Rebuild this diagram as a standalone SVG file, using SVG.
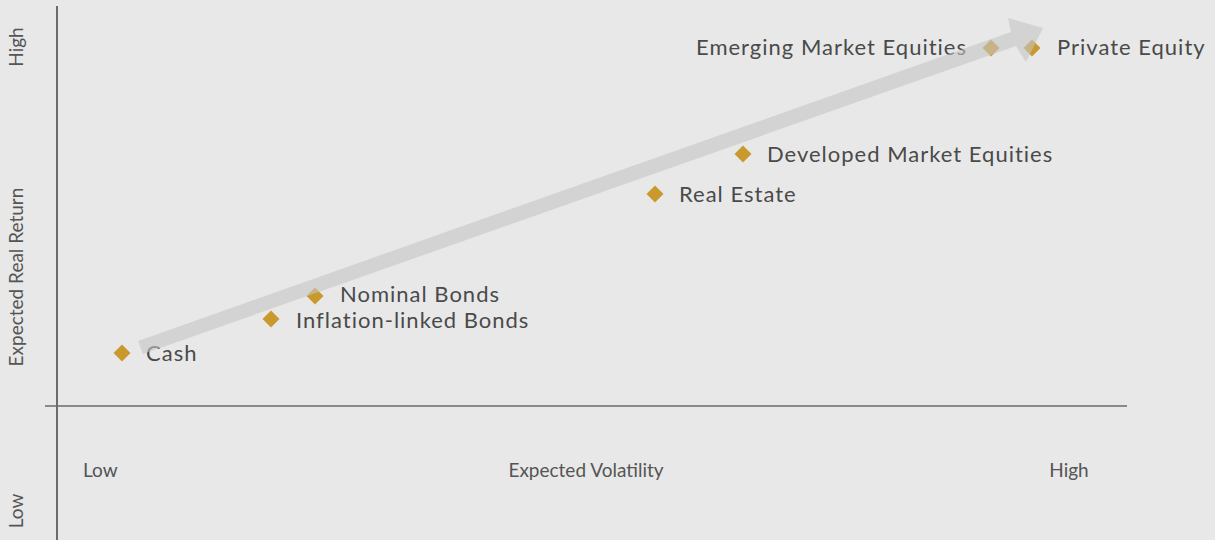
<svg xmlns="http://www.w3.org/2000/svg" width="1215" height="540" viewBox="0 0 1215 540">
<style>
.lbl{font-family:Lato,"Noto Sans","Liberation Sans",sans-serif;font-size:22px;letter-spacing:1px;fill:#4a4a4a}
.ax{font-family:Lato,"Noto Sans","Liberation Sans",sans-serif;font-size:19px;fill:#555}
.d{fill:#c9992d}
.axis{stroke:#6b6b6b;fill:none}
</style>
<defs>
<path id="dia" d="M0,-8.5 L8.5,0 L0,8.5 L-8.5,0 Z"/>
</defs>
<rect width="1215" height="540" fill="#e8e8e8"/>
<g id="axes">
<line class="axis" x1="57" y1="6" x2="57" y2="540" stroke-width="2"/>
<line class="axis" x1="45" y1="406" x2="1127" y2="406" stroke-width="1.5"/>
<text class="ax" x="83" y="477">Low</text>
<text class="ax" x="586" y="477" text-anchor="middle">Expected Volatility</text>
<text class="ax" x="1069" y="477" text-anchor="middle">High</text>
<text class="ax" transform="translate(23,47) rotate(-90)" text-anchor="middle">High</text>
<text class="ax" transform="translate(23,277) rotate(-90)" text-anchor="middle">Expected Real Return</text>
<text class="ax" transform="translate(23,511) rotate(-90)" text-anchor="middle">Low</text>
</g>
<g id="n-cash"><use href="#dia" class="d" x="122" y="353"/><text class="lbl" x="146" y="361">Cash</text></g>
<g id="n-ilb"><use href="#dia" class="d" x="271" y="319"/><text class="lbl" x="296" y="328">Inflation-linked Bonds</text></g>
<g id="n-nb"><use href="#dia" class="d" x="315" y="296"/><text class="lbl" x="340" y="302">Nominal Bonds</text></g>
<g id="n-re"><use href="#dia" class="d" x="655" y="194"/><text class="lbl" x="679" y="202">Real Estate</text></g>
<g id="n-dme"><use href="#dia" class="d" x="743" y="154"/><text class="lbl" x="767" y="162">Developed Market Equities</text></g>
<g id="n-eme"><use href="#dia" class="d" x="991" y="48"/><text class="lbl" x="967" y="55" text-anchor="end">Emerging Market Equities</text></g>
<g id="n-pe"><use href="#dia" class="d" x="1032" y="48"/><text class="lbl" x="1057" y="55">Private Equity</text></g>
<g id="connectors">
<path d="M138,341 L1011,32 L1008,18 L1043,28 L1026,62 L1016,46 L143,354 Z" fill="#c4c4c4" fill-opacity="0.6"/>
</g>
</svg>
